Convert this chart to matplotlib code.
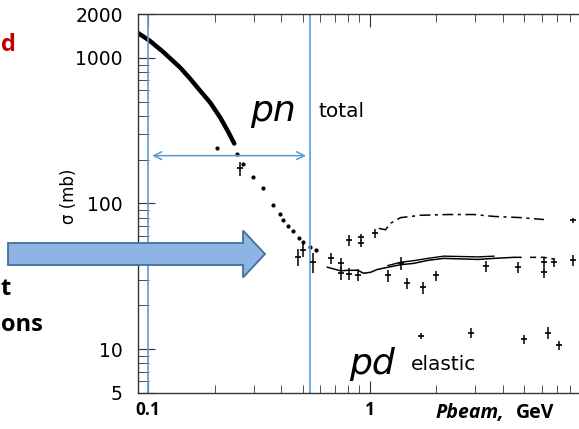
import numpy as np
import matplotlib.pyplot as plt
from matplotlib.patches import FancyArrow

# --------------------------------------------
# data
# --------------------------------------------

# pn total, dense part (low momentum)
pn_curve_x = [0.090, 0.102, 0.117, 0.140, 0.155, 0.172, 0.191, 0.212, 0.230, 0.245]
pn_curve_y = [1483, 1307, 1099, 854, 718, 594, 492, 388, 311, 258]

# pn total, sparse dots
pn_dots_x = [0.253, 0.269, 0.299, 0.331, 0.368, 0.395, 0.408, 0.430, 0.453, 0.480, 0.503, 0.541, 0.570, 0.205]
pn_dots_y = [220, 188, 151, 127, 97, 85, 77, 70, 65, 58, 54, 50, 48, 242]

# pn total with error bars
pn_err_x = [0.261, 0.477, 0.558, 0.503]
pn_err_y = [174, 43, 39.5, 48]
pn_err_e = [20, 6, 6, 5]

# lower band (~40 mb)
low_x = [0.645, 0.740, 0.804, 0.883, 0.940, 1.01, 1.087, 1.21, 1.38, 1.58, 1.83, 2.16, 3.08, 3.64, 4.48, 4.82]
low_y = [36.5, 34.5, 34.8, 34.8, 33.2, 33.7, 35.3, 36.5, 38.0, 38.8, 40.7, 42.0, 41.3, 42.0, 42.7, 42.7]
low2_x = [1.21, 1.38, 1.58, 1.83, 2.16, 3.08, 3.64]
low2_y = [37.5, 39.5, 40.5, 42.0, 43.5, 43.0, 43.5]
low_dash_x = [5.3, 6.12, 6.8]
low_dash_y = [42.7, 42.7, 41.5]

# lower band points with error bars
low_err_x = [0.667, 0.740, 0.740, 0.804, 0.883, 1.21, 1.47, 1.75, 1.99, 3.35, 4.68, 6.12, 6.12, 6.80, 8.30, 1.38]
low_err_y = [42.0, 38.8, 33.2, 33.0, 32.5, 32.1, 28.3, 26.6, 32.1, 37.0, 36.5, 33.7, 39.5, 39.5, 40.7, 39.0]
low_err_e = [3.5, 3.5, 3.5, 3.0, 3.0, 3.0, 2.5, 2.5, 2.5, 3.0, 3.0, 3.0, 3.0, 3.0, 3.5, 4.0]

# upper band (~85 mb), dashed
up_x = [1.10, 1.18, 1.24, 1.38, 1.70, 2.26, 2.96, 3.64, 4.82, 6.12]
up_y = [67.5, 66.0, 73.0, 80.0, 83.0, 84.0, 84.0, 81.5, 80.0, 77.6]
up_err_x = [0.804, 0.910, 0.910, 1.06, 8.30]
up_err_y = [55.8, 58.5, 53.2, 62.4, 76.5]
up_err_e = [5, 3, 3, 4, 3]

# pd elastic
pd_x = [1.70, 2.86, 4.98, 6.38, 7.16]
pd_y = [12.3, 12.9, 11.7, 12.9, 10.6]
pd_e = [0.6, 1.0, 0.8, 1.2, 0.7]

y_ticks = [5, 10, 100, 1000, 2000]
y_labels = ["5", "10", "100", "1000", "2000"]
x_ticks = [0.1, 1]
x_labels = ["0.1", "1"]

# --------------------------------------------
# figure
# --------------------------------------------

W, H = 579, 429
fig = plt.figure(figsize=(W / 100, H / 100), dpi=100)
ax = fig.add_axes([138 / W, 1 - 393 / H, 1 - 138 / W + 0.002, (393 - 14) / H])

ax.set_xscale("log")
ax.set_yscale("log")
ax.set_xlim(0.0901, 8.92)
ax.set_ylim(5, 2000)

ax.plot(pn_curve_x, pn_curve_y, color="black", lw=3.2, solid_capstyle="round")
ax.plot(pn_dots_x, pn_dots_y, "o", color="black", ms=2.0)
ax.errorbar(pn_err_x, pn_err_y, yerr=pn_err_e, fmt="_", color="black", ms=5, mew=1.2, elinewidth=1.1, capsize=0)

ax.plot(low_x, low_y, color="black", lw=1.1)
ax.plot(low2_x, low2_y, color="black", lw=1.0)
ax.plot(low_dash_x, low_dash_y, color="black", lw=1.1, ls=(0, (4, 3)))
ax.errorbar(low_err_x, low_err_y, yerr=low_err_e, fmt="_", color="black", ms=5, mew=1.2, elinewidth=1.1, capsize=0)

ax.plot(up_x, up_y, color="black", lw=1.1, ls=(0, (7, 3, 2, 3)))
ax.errorbar(up_err_x, up_err_y, yerr=up_err_e, fmt="_", color="black", ms=5, mew=1.2, elinewidth=1.1, capsize=0)

ax.errorbar(pd_x, pd_y, yerr=pd_e, fmt="_", color="black", ms=5, mew=1.2, elinewidth=1.1, capsize=0)

# axes styling (scanned look)
ax.spines["right"].set_visible(False)
for s in ["left", "bottom", "top"]:
    ax.spines[s].set_linewidth(1.0)
    ax.spines[s].set_color("#333333")

ax.set_yticks(y_ticks)
ax.set_yticklabels(y_labels, fontsize=13.5, family="DejaVu Sans")
ax.set_xticks(x_ticks)
ax.set_xticklabels(x_labels, fontsize=12.5, fontweight="bold", family="Open Sans")
ax.tick_params(which="both", direction="in", top=True, color="#333333")
ax.tick_params(axis="y", which="major", length=12, pad=11)
ax.tick_params(axis="y", which="minor", length=8)
ax.tick_params(axis="x", which="major", length=9, pad=6)
ax.tick_params(axis="x", which="minor", length=6)

ax.set_ylabel("σ (mb)", fontsize=12, family="DejaVu Sans")
ax.yaxis.set_label_coords(-0.136, 0.52)

# blue guide lines
blue = "#5B9BD5"
ax.axvline(0.1, color=blue, lw=1.2)
ax.axvline(0.54, color=blue, lw=1.2)
ax.annotate("", xy=(0.1015, 213), xytext=(0.532, 213),
            arrowprops=dict(arrowstyle="<->", color=blue, lw=1.1, mutation_scale=14))

# labels inside the plot
ax.text(0.365, 430, "pn", fontsize=26, style="italic", family="DejaVu Sans", va="center", ha="center")
ax.text(0.585, 430, "total", fontsize=14.5, family="DejaVu Sans", va="center", ha="left")
ax.text(1.03, 7.9, "pd", fontsize=26, style="italic", family="DejaVu Sans", va="center", ha="center")
ax.text(1.53, 7.9, "elastic", fontsize=14.5, family="DejaVu Sans", va="center", ha="left")

fig.text(435 / W, 1 - 413 / H, "Pbeam,", fontsize=14, fontweight="bold", style="italic",
         family="Open Sans", va="center", ha="left")
fig.text(516 / W, 1 - 413 / H, "GeV", fontsize=14, fontweight="bold",
         family="Open Sans", va="center", ha="left")

# slide text fragments on the left
fig.text(0.5 / W, 1 - 45 / H, "d", fontsize=17, fontweight="bold", color="#C00000",
         family="Open Sans", va="center", ha="left")
fig.text(0.5 / W, 1 - 289 / H, "t", fontsize=17, fontweight="bold", color="black",
         family="Open Sans", va="center", ha="left")
fig.text(0.5 / W, 1 - 325 / H, "ons", fontsize=17, fontweight="bold", color="black",
         family="Open Sans", va="center", ha="left")

# block arrow
arr = FancyArrow(0.08, (H - 254) / 100, 2.57, 0, width=0.22, head_width=0.47, head_length=0.22,
                 length_includes_head=True, transform=fig.dpi_scale_trans,
                 facecolor="#8EB4E3", edgecolor="#41719C", lw=1.3, zorder=5)
fig.add_artist(arr)

fig.savefig("out.png", dpi=100)
